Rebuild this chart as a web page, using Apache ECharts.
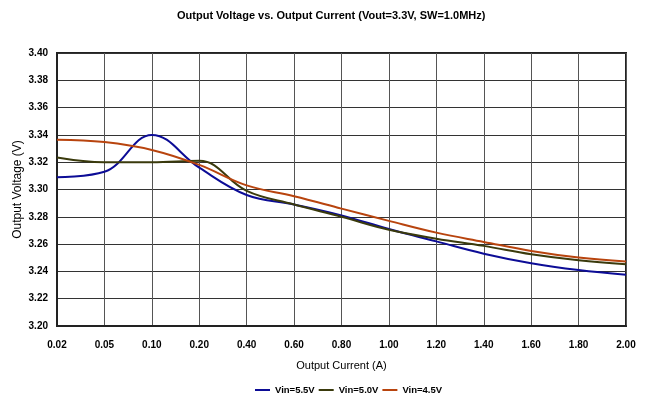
<!DOCTYPE html>
<html>
<head>
<meta charset="utf-8">
<script src="https://cdn.jsdelivr.net/npm/echarts@6/dist/echarts.min.js"></script>
<style>html,body{margin:0;padding:0;background:#fff;}#c{width:652px;height:400px;}</style>
</head>
<body>
<div id="c"></div>
<script>
var categories = ['0.02','0.05','0.10','0.20','0.40','0.60','0.80','1.00','1.20','1.40','1.60','1.80','2.00'];
var vin55 = [3.309, 3.313, 3.340, 3.316, 3.296, 3.289, 3.281, 3.271, 3.262, 3.253, 3.246, 3.241, 3.2375];
var vin50 = [3.3235, 3.320, 3.320, 3.321, 3.299, 3.289, 3.280, 3.2705, 3.264, 3.2587, 3.2526, 3.2482, 3.2453];
var vin45 = [3.3365, 3.3348, 3.329, 3.318, 3.303, 3.295, 3.286, 3.277, 3.2684, 3.2616, 3.255, 3.2502, 3.2473];
var seriesNames = ['Vin=5.5V', 'Vin=5.0V', 'Vin=4.5V'];
var yTicks = { min: 3.20, max: 3.40, step: 0.02 };

var chart = echarts.init(document.getElementById('c'));
var font = 'Liberation Sans, Arial, sans-serif';
function mk(name, data, color) {
  return { name: name, type: 'line', data: data, smooth: 0.4, symbol: 'none',
    lineStyle: { color: color, width: 2 }, itemStyle: { color: color } };
}
chart.setOption({
  animation: false,
  backgroundColor: '#fff',
  title: { text: 'Output Voltage vs. Output Current (Vout=3.3V, SW=1.0MHz)', left: 172, top: 5,
    textStyle: { fontFamily: font, fontSize: 11, fontWeight: 'bold', color: '#000' } },
  grid: { left: 57, right: 26, top: 53, bottom: 74, show: true, borderColor: '#222', borderWidth: 2, containLabel: false },
  legend: { bottom: 0, left: 250, icon: 'rect', itemWidth: 15, itemHeight: 2, itemGap: 4,
    textStyle: { fontFamily: font, fontSize: 9.5, fontWeight: 'bold', color: '#000' },
    data: seriesNames },
  xAxis: { type: 'category', data: categories, boundaryGap: false,
    name: 'Output Current (A)', nameLocation: 'middle', nameGap: 34, nameMoveOverlap: false,
    nameTextStyle: { fontFamily: font, fontSize: 11, color: '#000' },
    axisLine: { lineStyle: { color: '#222', width: 2 } },
    axisTick: { show: false },
    axisLabel: { fontFamily: font, fontSize: 10, fontWeight: 'bold', color: '#000', margin: 14 },
    splitLine: { show: true, lineStyle: { color: '#555', width: 1 } } },
  yAxis: { type: 'value', min: yTicks.min, max: yTicks.max, interval: yTicks.step,
    name: 'Output Voltage (V)', nameLocation: 'middle', nameGap: 33, nameMoveOverlap: false,
    nameTextStyle: { fontFamily: font, fontSize: 12, color: '#000' },
    axisLine: { show: true, lineStyle: { color: '#222', width: 2 } },
    axisTick: { show: false },
    axisLabel: { fontFamily: font, fontSize: 10, fontWeight: 'bold', color: '#000', margin: 9,
      formatter: function (v) { return v.toFixed(2); } },
    splitLine: { show: true, lineStyle: { color: '#333', width: 1 } } },
  series: [
    mk(seriesNames[0], vin55, '#0c0c96'),
    mk(seriesNames[1], vin50, '#3a3a0c'),
    mk(seriesNames[2], vin45, '#b8440e')
  ]
});
</script>
</body>
</html>
